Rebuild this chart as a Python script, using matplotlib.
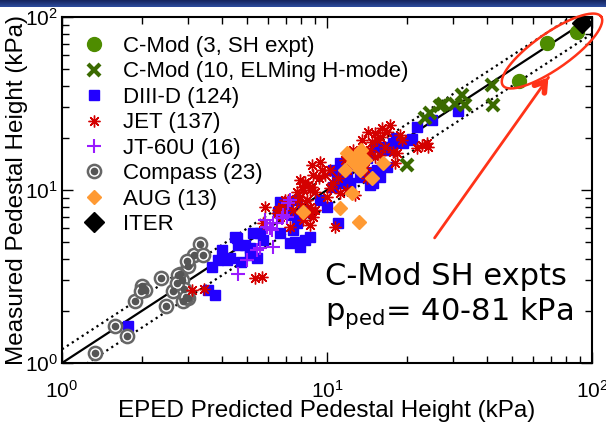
import numpy as np
import matplotlib
matplotlib.use("Agg")
import matplotlib.pyplot as plt
from matplotlib.ticker import FixedLocator, FixedFormatter, LogLocator, NullFormatter

plt.rcParams["font.family"] = ["Liberation Sans", "DejaVu Sans"]

# ---- data (kPa): EPED predicted (x) vs measured (y) ----
cmod_sh_x = [53.0, 67.6, 87.8]
cmod_sh_y = [42.7, 70.8, 81.9]

cmod_elm_x = [20.0, 23.4, 24.5, 26.7, 27.4, 30.4, 32.3, 33.2, 42.0, 42.3]
cmod_elm_y = [13.9, 26.1, 27.9, 30.6, 31.4, 31.4, 35.4, 31.0, 40.5, 31.0]

d3d_x = [1.77, 3.56, 3.78, 4.02, 3.88, 3.68, 4.20, 4.57, 4.61, 4.91, 5.12, 5.26,
         5.58, 5.73, 5.44, 4.73, 5.12, 7.44, 7.57, 7.25, 7.91, 8.26, 7.71, 6.82,
         6.53, 8.41, 4.50, 6.65, 8.63, 10.0, 9.42, 10.5, 10.9, 11.5, 11.9, 12.2,
         13.3, 14.2, 14.9, 15.8, 15.4, 15.2, 16.3, 16.8, 17.7, 19.4, 20.6, 21.9,
         24.9, 31.2, 11.0, 6.65, 7.06, 7.71, 11.2, 10.5, 12.2, 8.12, 7.44, 13.3,
         14.2, 14.9, 14.5, 16.8, 18.2, 20.9, 4.30]
d3d_y = [1.64, 2.64, 2.47, 4.50, 3.94, 3.59, 3.94, 5.28, 4.81, 4.81, 4.62, 5.64,
         5.64, 5.14, 4.05, 3.84, 4.21, 5.87, 5.00, 4.94, 4.69, 5.14, 6.45, 7.36,
         7.46, 7.46, 5.35, 5.64, 5.35, 7.98, 8.75, 10.4, 11.9, 11.0, 12.5, 11.0,
         11.9, 11.9, 11.0, 11.9, 13.0, 17.7, 17.7, 17.0, 18.7, 18.7, 19.5, 23.1,
         25.4, 28.6, 6.45, 8.53, 7.66, 8.75, 14.3, 13.0, 10.3, 7.66, 7.17, 16.4,
         15.3, 12.7, 10.7, 13.6, 20.0, 19.7, 4.05]

jet_x = [16.1, 15.2, 15.4, 14.8, 15.8, 16.6, 17.7, 18.1, 15.2, 14.5, 12.5, 13.0,
         12.2, 11.9, 13.0, 13.9, 14.2, 12.8, 11.9, 10.5, 10.3, 11.2, 10.0, 10.3,
         9.42, 8.78, 9.58, 8.85, 7.91, 8.26, 8.48, 8.78, 9.01, 8.63, 8.12, 7.71,
         7.91, 8.41, 7.71, 8.05, 8.63, 9.01, 8.63, 7.44, 7.12, 6.53, 6.76, 5.84,
         5.73, 8.63, 10.7, 7.25, 18.8, 19.2, 23.8, 24.0, 21.9, 22.8, 18.4, 15.8,
         14.2, 8.05, 6.94, 6.65, 8.85, 6.65, 6.48, 5.35, 5.68, 3.43, 3.09, 8.12,
         6.76, 9.3, 9.83, 11.0, 11.7, 13.6, 14.3, 17.3, 16.8]
jet_y = [22.8, 21.3, 19.5, 18.9, 20.2, 17.7, 16.6, 14.3, 15.5, 17.0, 17.0, 15.9,
         14.0, 13.0, 14.3, 13.4, 11.7, 9.35, 10.0, 11.0, 10.3, 9.61, 9.12, 13.0,
         14.5, 14.0, 13.0, 12.2, 11.4, 11.1, 10.7, 10.4, 9.73, 10.0, 10.0, 9.73,
         9.12, 8.75, 8.75, 8.19, 7.98, 7.66, 7.36, 7.66, 8.75, 7.66, 7.17, 7.98,
         6.45, 6.28, 6.11, 6.11, 20.8, 19.5, 18.7, 17.7, 17.5, 18.2, 16.4, 15.9,
         16.4, 10.4, 8.75, 7.66, 6.98, 6.98, 7.36, 3.10, 3.14, 2.68, 2.64, 6.71,
         7.98, 11.7, 12.2, 11.7, 14.9, 19.5, 21.6, 23.8, 21.6]

jt60u_x = [4.61, 4.99, 5.44, 5.58, 6.26, 6.10, 6.48, 6.76, 7.06, 7.12, 7.25,
           6.82, 6.26, 5.94, 5.84, 6.20]
jt60u_y = [3.27, 3.94, 4.50, 4.62, 4.69, 6.03, 6.45, 6.89, 6.98, 8.41, 8.75,
           7.17, 6.45, 6.11, 6.71, 5.87]

compass_x = [1.33, 1.58, 1.76, 1.89, 2.00, 2.05, 2.36, 2.47, 2.63, 2.78, 2.83,
             2.85, 2.88, 2.98, 2.98, 3.16, 3.31, 3.40, 2.95, 2.75, 2.93, 2.72, 1.98]
compass_y = [1.14, 1.64, 1.43, 2.27, 2.78, 2.64, 3.10, 2.14, 2.62, 3.27, 3.00,
             2.27, 2.68, 3.64, 2.36, 4.21, 4.90, 4.21, 3.88, 3.22, 2.40, 2.90, 2.60]

aug_x = [11.9, 13.0, 13.9, 13.3, 11.7, 14.8, 16.3, 12.4, 11.2, 8.12, 13.2, 12.5, 13.4]
aug_y = [16.4, 15.9, 14.9, 13.0, 13.0, 11.7, 14.3, 9.61, 7.87, 7.46, 6.53, 14.5, 17.0]

iter_x = [92.0]
iter_y = [92.0]

line_x = [1.0, 100.0]
band = 0.2

fig = plt.figure(figsize=(6.06, 4.23), dpi=100)

# blue banner across the top
bax = fig.add_axes([0, 1 - 7 / 423, 1, 7 / 423])
bax.imshow(np.linspace(0, 1, 20).reshape(-1, 1), aspect="auto",
           cmap=matplotlib.colors.LinearSegmentedColormap.from_list(
               "b", ["#16255e", "#2d4c9e"]))
bax.axis("off")

ax = fig.add_axes([62 / 606, 1 - 363 / 423, 530 / 606, 346 / 423])
ax.set_xscale("log")
ax.set_yscale("log")
ax.set_xlim(1, 100)
ax.set_ylim(1, 100)

lx = np.array(line_x)
ax.plot(lx, lx, "-", color="black", lw=1.6, zorder=1)
ax.plot(lx, lx * (1 + band), ":", color="black", lw=1.6, zorder=1)
ax.plot(lx, lx * (1 - band), ":", color="black", lw=1.6, zorder=1)

ax.plot(cmod_sh_x, cmod_sh_y, "o", ls="none", color="#4e8c00", ms=10,
        mec="#4e8c00", label="C-Mod (3, SH expt)", zorder=5)
ax.plot(cmod_elm_x, cmod_elm_y, "x", ls="none", color="#3a6a00", ms=8, mew=3,
        label="C-Mod (10, ELMing H-mode)", zorder=5)
ax.plot(d3d_x, d3d_y, "s", ls="none", color="#2200ff", mec="#2200ff", ms=7,
        label="DIII-D (124)", zorder=2)
ax.plot(jet_x, jet_y, marker=(8, 2, 0), ls="none", color="#d40000", ms=8.5,
        mew=1.0, label="JET (137)", zorder=3)
ax.plot(jt60u_x, jt60u_y, "+", ls="none", color="#9a1aff", ms=10, mew=1.5,
        label="JT-60U (16)", zorder=3)
comp, = ax.plot(compass_x, compass_y, "o", ls="none", mfc="white",
                mec="#666666", ms=9.5, mew=1.8, zorder=2)
dots, = ax.plot(compass_x, compass_y, "o", ls="none", color="#555555",
                ms=4.5, zorder=2.1)
ax.plot(aug_x, aug_y, "D", ls="none", color="#ff9a33", mec="#ff9a33", ms=7.5,
        label="AUG (13)", zorder=4)
ax.plot(iter_x, iter_y, "D", ls="none", color="black", ms=10, label="ITER",
        zorder=6)

h, l = ax.get_legend_handles_labels()
h.insert(5, (comp, dots))
l.insert(5, "Compass (23)")
leg = ax.legend(h, l, loc="upper left", bbox_to_anchor=(0.0, 0.99),
                frameon=False, fontsize=16, labelspacing=0.2,
                handletextpad=0.55, handlelength=1.5, borderaxespad=0.3)

ax.tick_params(which="both", direction="in", top=True, right=True, width=1.0)
ax.tick_params(which="major", length=8, labelsize=15)
ax.tick_params(which="minor", length=5)
ax.tick_params(axis="x", pad=12)
ax.tick_params(axis="y", pad=3)
ticks = [1, 10, 100]
tlabels = [r"$\mathregular{10^{0}}$", r"$\mathregular{10^{1}}$",
           r"$\mathregular{10^{2}}$"]
for axis in (ax.xaxis, ax.yaxis):
    axis.set_major_locator(FixedLocator(ticks))
    axis.set_major_formatter(FixedFormatter(tlabels))
    axis.set_minor_locator(LogLocator(base=10, subs=np.arange(2, 10)))
    axis.set_minor_formatter(NullFormatter())
for s in ax.spines.values():
    s.set_linewidth(1.5)

ax.set_xlabel("EPED Predicted Pedestal Height (kPa)", fontsize=17.5)
ax.xaxis.set_label_coords(0.5, -0.108)
ax.set_ylabel("Measured Pedestal Height (kPa)", fontsize=17.5, labelpad=-2)

# red annotation: ellipse around SH points, arrow, text
red = "#ff3318"
t = np.linspace(0, 2 * np.pi, 200)
th = np.deg2rad(35)
a, b = 60, 18
ex = 0.9245 + (a * np.cos(t) * np.cos(th) - b * np.sin(t) * np.sin(th)) / 530
ey = 0.9017 + (a * np.cos(t) * np.sin(th) + b * np.sin(t) * np.cos(th)) / 346
ax.plot(ex, ey, color=red, lw=1.8, transform=ax.transAxes, clip_on=False,
        zorder=7)
ax.annotate("", xy=(0.921, 0.832), xytext=(0.700, 0.355),
            xycoords="axes fraction",
            arrowprops=dict(arrowstyle="-", color=red, lw=2))
ax.annotate("", xy=(0.921, 0.832), xytext=(0.905, 0.80),
            xycoords="axes fraction",
            arrowprops=dict(arrowstyle="->,head_length=0.7,head_width=0.45",
                            color=red, lw=4))

ax.text(0.497, 0.225, "C-Mod SH expts", transform=ax.transAxes,
        fontsize=22, family="DejaVu Sans", va="baseline", ha="left")
ax.text(0.497, 0.124, r"p$\mathregular{_{ped}}$= 40-81 kPa",
        transform=ax.transAxes, fontsize=22, family="DejaVu Sans",
        va="baseline", ha="left")

fig.savefig("out.png", dpi=100)
